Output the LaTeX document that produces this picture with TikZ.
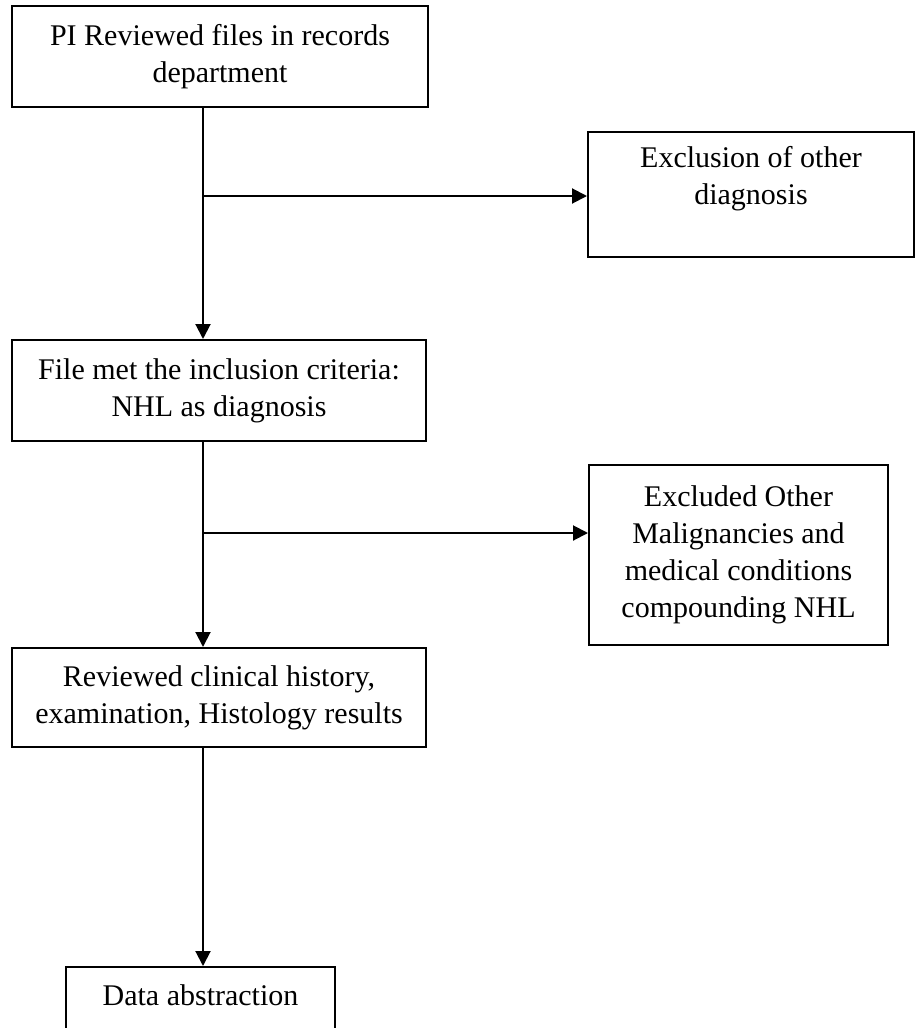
\documentclass[tikz,border=0pt]{standalone}
\usepackage{fontspec}
\setmainfont{Liberation Serif}
\usetikzlibrary{arrows.meta}
\tikzset{
  process/.style={rectangle, draw=black, line width=1pt, align=center, inner sep=0pt, font=\fontsize{15}{18.5}\selectfont},
  flecha/.style={-{Triangle[length=7.5pt, width=7.5pt]}, line width=1pt}
}
\begin{document}
\begin{tikzpicture}[x=0.5pt, y=-0.5pt]
  \useasboundingbox (0,0) rectangle (920,1028);
  \clip (0,0) rectangle (920,1028);

  % Review of files
  \node[process, minimum width=208pt, minimum height=50.5pt] (records) at (220, 56.5) {PI Reviewed files in records\\department};

  % Exclusion of other diagnosis
  \node[process, minimum width=163pt, minimum height=62.5pt, text depth=19.2pt] (exclusion) at (751, 194.5) {Exclusion of other\\diagnosis};

  % Inclusion criteria
  \node[process, minimum width=207pt, minimum height=50.5pt] (inclusion) at (219, 390.5) {File met the inclusion criteria:\\NHL as diagnosis};

  % Excluded malignancies
  \node[process, minimum width=149.5pt, minimum height=90pt] (excluded) at (738.5, 555) {Excluded Other\\Malignancies and\\medical conditions\\compounding NHL};

  % Clinical review
  \node[process, minimum width=207pt, minimum height=49.5pt] (clinical) at (219, 697.5) {Reviewed clinical history,\\examination, Histology results};

  % Data abstraction
  \node[process, minimum width=134.5pt, minimum height=36pt, text depth=8pt] (abstraction) at (200.5, 1003) {Data abstraction};

  % Branch points
  \coordinate (spine) at (203, 0);
  \coordinate (fork1) at (203, 196);
  \coordinate (fork2) at (203, 533);

  % Main arrows
  \draw[flecha] (records.south -| spine) -- (inclusion.north -| spine);
  \draw[flecha] (inclusion.south -| spine) -- (clinical.north -| spine);
  \draw[flecha] (clinical.south -| spine) -- (abstraction.north -| spine);

  % Side arrows
  \draw[flecha] (fork1) -- (fork1 -| exclusion.west);
  \draw[flecha] (fork2) -- (fork2 -| excluded.west);
\end{tikzpicture}
\end{document}
